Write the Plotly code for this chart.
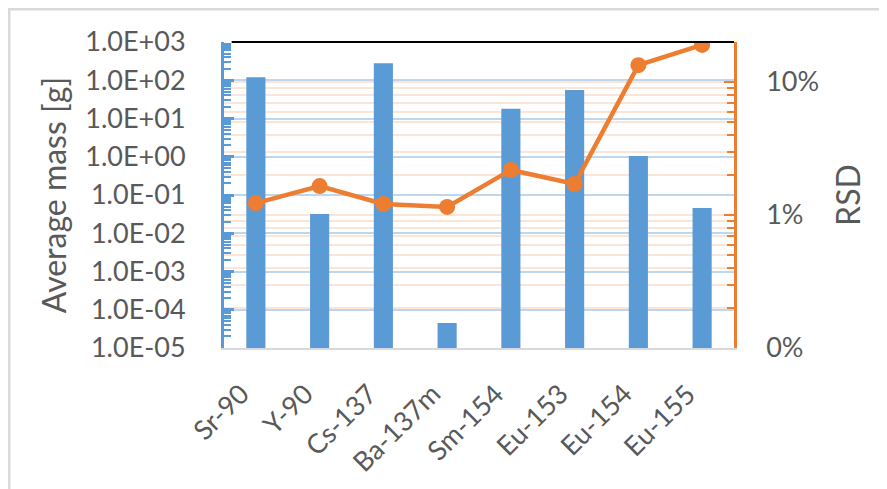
import plotly.graph_objects as go

nuclides = ["Sr-90", "Y-90", "Cs-137", "Ba-137m", "Sm-154", "Eu-153", "Eu-154", "Eu-155"]
avg_mass = [120, 0.032, 280, 4.5e-5, 18, 56, 1.05, 0.046]
rsd = [0.0123, 0.0165, 0.0121, 0.0115, 0.0218, 0.0171, 0.134, 0.19]

BLUE = "#5B9BD5"
ORANGE = "#ED7D31"
GREY = "#595959"
FONT = "Lato"

fig = go.Figure()

fig.add_trace(go.Bar(
    x=nuclides, y=avg_mass, name="Average mass",
    marker=dict(color=BLUE, line=dict(width=0)),
))

fig.add_trace(go.Scatter(
    x=nuclides, y=rsd, name="RSD", yaxis="y2",
    mode="lines+markers",
    line=dict(color=ORANGE, width=4.5),
    marker=dict(color=ORANGE, size=16),
))

# category labels as rotated annotations so the end of each label sits under its bar
labels = [
    dict(text=n, x=n, xref="x", y=0, yref="paper",
         textangle=-45, xanchor="right", yanchor="top",
         xshift=2, yshift=-26, showarrow=False,
         font=dict(family=FONT, size=27, color=GREY))
    for n in nuclides
]

fig.update_layout(
    width=887, height=489,
    margin=dict(l=216, r=161, t=34, b=149),
    paper_bgcolor="white", plot_bgcolor="white",
    font=dict(family=FONT, size=27, color=GREY),
    showlegend=False,
    bargap=0.7,
    xaxis=dict(
        range=[-0.5, len(nuclides) - 0.5], autorange=False,
        showticklabels=False,
        showline=True, linecolor="#D9D9D9", linewidth=2,
        ticks="", showgrid=False,
    ),
    yaxis=dict(
        type="log", range=[-5, 3],
        tickvals=[1e-5, 1e-4, 1e-3, 1e-2, 1e-1, 1, 10, 100, 1000],
        ticktext=["1.0E-05", "1.0E-04", "1.0E-03", "1.0E-02", "1.0E-01",
                  "1.0E+00", "1.0E+01", "1.0E+02", "1.0E+03"],
        showline=True, linecolor=BLUE, linewidth=3,
        ticks="inside", ticklen=10, tickwidth=3, tickcolor=BLUE,
        minor=dict(ticks="inside", ticklen=7, tickwidth=2, tickcolor=BLUE,
                   dtick="D1", showgrid=False),
        showgrid=True, gridcolor="#BDD7EE", gridwidth=2,
        ticklabelstandoff=30,
        title=dict(text="Average mass [g]", standoff=10),
        zeroline=False,
    ),
    yaxis2=dict(
        type="log", range=[-3, -0.699], overlaying="y", side="right",
        tickvals=[0.001, 0.01, 0.1],
        ticktext=["0%", "1%", "10%"],
        showline=True, linecolor=ORANGE, linewidth=2.5,
        ticks="inside", ticklen=10, tickwidth=2, tickcolor=ORANGE,
        minor=dict(ticks="inside", ticklen=7, tickwidth=2, tickcolor=ORANGE,
                   dtick="D1", showgrid=True, gridcolor="#FBE5D6", gridwidth=2),
        showgrid=True, gridcolor="#FBE5D6", gridwidth=2,
        ticklabelstandoff=24,
        title=dict(text="RSD", standoff=20),
        zeroline=False,
    ),
    annotations=labels,
    shapes=[
        dict(type="line", xref="paper", yref="paper", x0=0.015, x1=1, y0=1, y1=1,
             line=dict(color="black", width=2)),
        dict(type="rect", xref="paper", yref="paper",
             x0=-0.4216, x1=1.32, y0=-0.5, y1=1.108,
             line=dict(color="#D9D9D9", width=3), layer="below"),
    ],
)

fig.write_html("out.html")
